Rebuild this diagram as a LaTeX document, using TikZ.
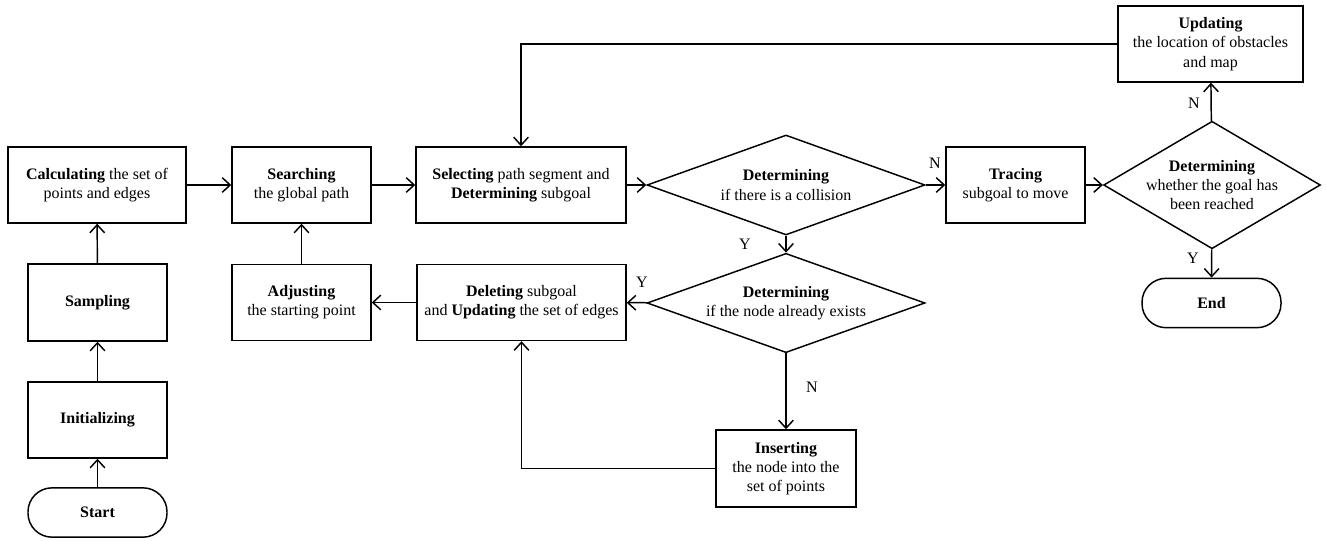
\documentclass[tikz,border=0pt]{standalone}
\usepackage{fontspec}
\setmainfont{Liberation Serif}
\usetikzlibrary{shapes.geometric,arrows.meta}
\tikzset{
  base/.style={draw, line width=1.1pt, align=center, inner sep=1pt, font=\fontsize{12}{14.5}\selectfont},
  box/.style={base, rectangle, minimum height=57pt},
  term/.style={base, rectangle, rounded corners=18pt, minimum width=104.25pt, minimum height=37pt},
  dec/.style={base, diamond, aspect=2.5, inner sep=0pt},
  conn/.style={line width=1.1pt, -{Straight Barb[length=6pt,width=11pt,line width=1.1pt]}},
  lbl/.style={font=\fontsize{12}{14.5}\selectfont, inner sep=0pt}
}
\begin{document}
\begin{tikzpicture}[x=0.75pt,y=-0.75pt]
\useasboundingbox (0,0) rectangle (1326,541);
% nodes
\node[box, minimum width=133.5pt] (calc) at (97,185) {\textbf{Calculating} the set of\\points and edges};
\node[box, minimum width=104.25pt] (search) at (301.5,185) {\textbf{Searching}\\the global path};
\node[box, minimum width=157.5pt] (select) at (521,185) {\textbf{Selecting} path segment and\\\textbf{Determining} subgoal};
\node[dec, minimum width=208.5pt, minimum height=75pt] (d1) at (786,185) {\textbf{Determining}\\if there is a collision};
\node[box, minimum width=104.25pt] (trace) at (1015.5,185) {\textbf{Tracing}\\subgoal to move};
\node[dec, minimum width=157.5pt, minimum height=91.5pt, aspect=1.7] (d3) at (1212,185) {\textbf{Determining}\\whether the goal has\\been reached};
\node[box, minimum width=138.75pt] (update) at (1210.5,44) {\textbf{Updating}\\the location of obstacles\\and map};
\node[term] (end) at (1211.5,303) {\textbf{End}};
\node[dec, minimum width=208.5pt, minimum height=74.5pt] (d2) at (786,303) {\textbf{Determining}\\if the node already exists};
\node[box, minimum width=156.75pt] (delete) at (521.5,302.5) {\textbf{Deleting} subgoal\\and \textbf{Updating} the set of edges};
\node[box, minimum width=104.25pt] (adjust) at (301.5,302.5) {\textbf{Adjusting}\\the starting point};
\node[box, minimum width=104.25pt, minimum height=57.75pt] (sampling) at (97.5,302.5) {\textbf{Sampling}};
\node[box, minimum width=104.25pt] (init) at (97.5,420) {\textbf{Initializing}};
\node[term] (start) at (97.5,512.5) {\textbf{Start}};
\node[box, minimum width=105pt, minimum height=57.75pt] (insert) at (786,468.5) {\textbf{Inserting}\\the node into the\\set of points};
% connectors
\draw[conn] (start) -- (init);
\draw[conn] (init) -- (sampling);
\draw[conn] (sampling) -- (calc);
\draw[conn] (calc) -- (search);
\draw[conn] (search) -- (select);
\draw[conn] (select) -- (d1);
\draw[conn] (d1) -- (trace);
\draw[conn] (trace) -- (d3);
\draw[conn] (d3) -- (update);
\draw[conn] (d3) -- (end);
\draw[conn] (update.west) -- (select.north |- update.west) -- (select.north);
\draw[conn] (d1) -- (d2);
\draw[conn] (d2) -- (delete);
\draw[conn] (d2) -- (insert);
\draw[conn] (insert.west) -- (delete.south |- insert.west) -- (delete.south);
\draw[conn] (delete) -- (adjust);
\draw[conn] (adjust) -- (search);
% labels
\node[lbl] (lN1) at (935,163) {N};
\node[lbl] (lN2) at (1194,103) {N};
\node[lbl] (lY3) at (1193,258) {Y};
\node[lbl] (lY1) at (745,244) {Y};
\node[lbl] (lY2) at (642,282) {Y};
\node[lbl] (lN3) at (812,387) {N};
\end{tikzpicture}
\end{document}
